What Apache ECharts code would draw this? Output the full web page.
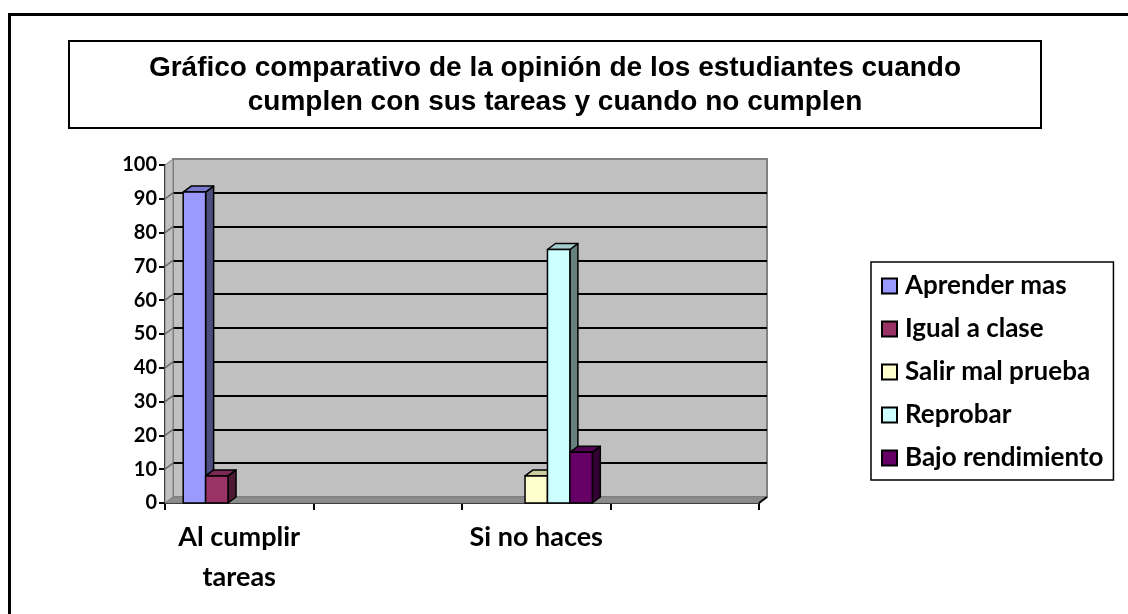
<!DOCTYPE html>
<html>
<head>
<meta charset="utf-8">
<title>Gráfico comparativo</title>
<script src="https://cdn.jsdelivr.net/npm/echarts@6/dist/echarts.min.js"></script>
<style>
html, body { margin: 0; padding: 0; background: #fff; }
#chart { width: 1128px; height: 614px; }
</style>
</head>
<body>
<div id="chart"></div>
<script>
// Data
// ------------------------------
var categories = ['Al cumplir\ntareas', '', 'Si no haces', ''];
var seriesNames = ['Aprender mas', 'Igual a clase', 'Salir mal prueba', 'Reprobar', 'Bajo rendimiento'];
var aprenderMas = [92, null, null, null];
var igualAClase = [8, null, null, null];
var salirMalPrueba = [null, null, 8, null];
var reprobar = [null, null, 75, null];
var bajoRendimiento = [null, null, 15, null];
var yTicks = [0, 10, 20, 30, 40, 50, 60, 70, 80, 90, 100];

var seriesValues = [aprenderMas, igualAClase, salirMalPrueba, reprobar, bajoRendimiento];
var frontColors = ['#9999ff', '#993366', '#ffffcc', '#ccffff', '#660066'];

// 3D look
var depthX = 8;
var depthY = 6;
var catGap = 0.245;
var labelFont = 'Lato';

function shade(hex, k) {
    var n = parseInt(hex.slice(1), 16);
    var r = Math.round(((n >> 16) & 255) * k);
    var g = Math.round(((n >> 8) & 255) * k);
    var b = Math.round((n & 255) * k);
    return 'rgb(' + r + ',' + g + ',' + b + ')';
}

function barRenderer(si) {
    return function (params, api) {
        var c = api.value(0);
        var v = api.value(1);
        if (isNaN(v)) return null;
        var base = api.coord([c, 0]);
        var top = api.coord([c, v]);
        var band = api.size([1, 0])[0];
        var barW = band * (1 - catGap) / seriesValues.length;
        var x0 = base[0] - band / 2 + band * catGap / 2 + si * barW;
        var x1 = x0 + barW;
        var yb = base[1];
        var yt = top[1];
        var col = frontColors[si];
        var line = { stroke: '#000', lineWidth: 1.5, lineJoin: 'round' };
        return {
            type: 'group',
            children: [{
                type: 'polygon',
                shape: { points: [[x1, yt], [x1 + depthX, yt - depthY], [x1 + depthX, yb - depthY], [x1, yb]] },
                style: Object.assign({ fill: shade(col, 0.5) }, line)
            }, {
                type: 'polygon',
                shape: { points: [[x0, yt], [x0 + depthX, yt - depthY], [x1 + depthX, yt - depthY], [x1, yt]] },
                style: Object.assign({ fill: shade(col, 0.8) }, line)
            }, {
                type: 'rect',
                shape: { x: x0, y: yt, width: barW, height: yb - yt },
                style: Object.assign({ fill: col }, line)
            }]
        };
    };
}

function wallRenderer(params, api) {
    var cs = params.coordSys;
    var v = api.value(0);
    var p = api.coord([0, v]);
    var x = cs.x;
    var children = [];
    if (params.dataIndex === 0) {
        var yTop = cs.y, yBot = cs.y + cs.height, xR = cs.x + cs.width;
        // left side wall
        children.push({
            type: 'polygon',
            shape: { points: [[x, yTop], [x + depthX, yTop - depthY], [x + depthX, yBot - depthY], [x, yBot]] },
            style: { fill: '#c0c0c0', stroke: '#808080', lineWidth: 1 }
        });
        // floor
        children.push({
            type: 'polygon',
            shape: { points: [[x, yBot], [x + depthX, yBot - depthY], [xR + depthX, yBot - depthY], [xR, yBot]] },
            style: { fill: '#8c8c8c', stroke: '#808080', lineWidth: 1 }
        });
        children.push({
            type: 'polyline',
            shape: { points: [[xR, yBot], [xR + depthX, yBot - depthY]] },
            style: { stroke: '#000', lineWidth: 2 }
        });
    }
    if (v > 0 && v < 100) {
        children.push({
            type: 'line',
            shape: { x1: x, y1: p[1], x2: x + depthX, y2: p[1] - depthY },
            style: { stroke: '#6a6a6a', lineWidth: 1.5 }
        });
    }
    return { type: 'group', children: children };
}

// Initialize chart
// ------------------------------
var chart = echarts.init(document.getElementById('chart'));

var series = [{
    name: 'wall',
    type: 'custom',
    xAxisIndex: 0,
    yAxisIndex: 0,
    silent: true,
    z: 1,
    renderItem: wallRenderer,
    data: yTicks.map(function (t) { return [t]; }),
    encode: { y: 0 }
}];

seriesValues.forEach(function (vals, si) {
    series.push({
        name: seriesNames[si],
        type: 'custom',
        xAxisIndex: 0,
        yAxisIndex: 0,
        z: 3,
        renderItem: barRenderer(si),
        itemStyle: { color: frontColors[si], borderColor: '#000', borderWidth: 1 },
        data: vals.map(function (v, i) { return [i, v == null ? '-' : v]; }),
        encode: { x: 0, y: 1 }
    });
});

var options = {
    backgroundColor: '#fff',
    animation: false,

    graphic: [{
        type: 'rect',
        silent: true,
        z: -10,
        shape: { x: 9.5, y: 14.5, width: 1300, height: 800 },
        style: { fill: null, stroke: '#000', lineWidth: 3 }
    }],

    title: {
        text: 'Gráfico comparativo de la opinión de los estudiantes cuando\ncumplen con sus tareas y cuando no cumplen',
        left: 475,
        top: 41,
        textAlign: 'center',
        padding: [10, 80, 9, 80],
        backgroundColor: '#fff',
        borderColor: '#000',
        borderWidth: 2,
        textStyle: {
            fontFamily: 'Liberation Sans',
            fontWeight: 'bold',
            fontSize: 28,
            lineHeight: 34,
            color: '#000'
        }
    },

    legend: {
        orient: 'vertical',
        left: 871,
        top: 262,
        padding: [11, 10, 9, 10],
        itemGap: 17,
        itemWidth: 15,
        itemHeight: 15,
        icon: 'rect',
        backgroundColor: '#fff',
        borderColor: '#000',
        borderWidth: 1.5,
        textStyle: {
            fontFamily: labelFont,
            fontWeight: 'bold',
            fontSize: 26,
            lineHeight: 26,
            color: '#000',
            padding: [0, 0, 0, 3]
        },
        data: seriesNames
    },

    grid: [{
        left: 165, top: 165, width: 594, height: 338
    }, {
        left: 173, top: 159, width: 594, height: 338,
        show: true,
        backgroundColor: '#c0c0c0',
        borderColor: '#808080',
        borderWidth: 2
    }],

    xAxis: [{
        gridIndex: 0,
        type: 'category',
        data: categories,
        axisLine: { lineStyle: { color: '#000', width: 2 } },
        axisTick: { show: true, length: 7, lineStyle: { color: '#000', width: 2 } },
        axisLabel: {
            interval: 0,
            margin: 14,
            color: '#000',
            fontFamily: labelFont,
            fontWeight: 'bold',
            fontSize: 27,
            lineHeight: 40
        },
        splitLine: { show: false }
    }, {
        gridIndex: 1,
        type: 'category',
        data: categories,
        show: false
    }],

    yAxis: [{
        gridIndex: 0,
        type: 'value',
        min: 0,
        max: 100,
        interval: 10,
        axisLine: { show: true, lineStyle: { color: '#000', width: 2 } },
        axisTick: { show: true, length: 6, lineStyle: { color: '#000', width: 2 } },
        axisLabel: {
            margin: 8,
            color: '#000',
            fontFamily: labelFont,
            fontWeight: 'bold',
            fontSize: 20
        },
        splitLine: { show: false }
    }, {
        gridIndex: 1,
        type: 'value',
        min: 0,
        max: 100,
        interval: 10,
        axisLine: { show: false },
        axisTick: { show: false },
        axisLabel: { show: false },
        splitLine: { show: true, showMinLine: false, showMaxLine: false, lineStyle: { color: '#000', width: 2 } }
    }],

    series: series
};

chart.setOption(options);

window.onresize = function () {
    setTimeout(function () {
        chart.resize();
    }, 200);
};
</script>
</body>
</html>
